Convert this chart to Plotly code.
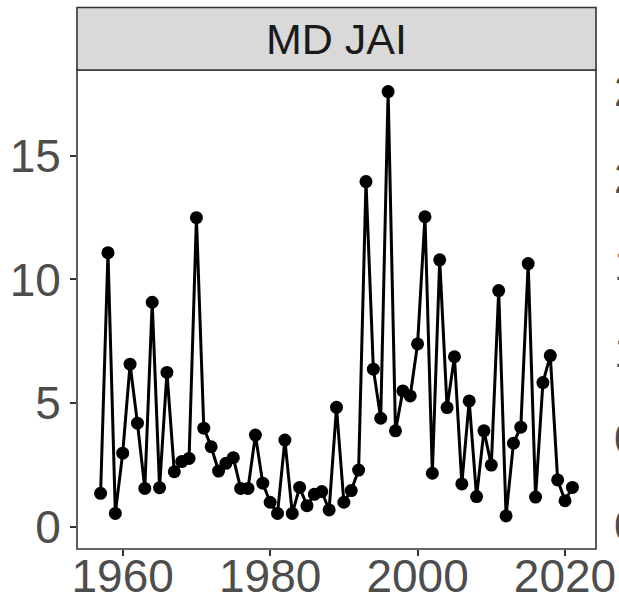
import plotly.graph_objects as go

# Annual index values, 1957-2021
years = list(range(1957, 2022))
jai = [
    1.37, 11.08, 0.56, 2.99, 6.58, 4.20, 1.57, 9.08, 1.60, 6.25,
    2.24, 2.65, 2.78, 12.49, 4.00, 3.25, 2.27, 2.58, 2.81, 1.57,
    1.57, 3.72, 1.78, 1.01, 0.56, 3.52, 0.56, 1.61, 0.87, 1.33,
    1.44, 0.70, 4.84, 1.01, 1.48, 2.31, 13.95, 6.38, 4.40, 17.58,
    3.89, 5.50, 5.30, 7.40, 12.53, 2.18, 10.79, 4.83, 6.88, 1.75,
    5.10, 1.24, 3.89, 2.51, 9.55, 0.46, 3.39, 4.04, 10.64, 1.22,
    5.84, 6.93, 1.91, 1.07, 1.61,
]

facet_label = "MD JAI"
x_ticks = [1960, 1980, 2000, 2020]
y_ticks = [0, 5, 10, 15]
# y-axis labels of the neighbouring panel (only their first glyphs fit on the page)
neighbour_ticks = ["2.5", "2.0", "1.5", "1.0", "0.5", "0.0"]

W, H = 619, 605
L, R, T, B = 77, 23, 70, 56
plot_h = H - T - B

FONT = "Liberation Sans, Arial, sans-serif"
DARK = "#333333"
TICK_TXT = "#4d4d4d"


def paper_y(px):
    """Convert a pixel row (from the top) into paper y."""
    return (H - B - px) / plot_h


fig = go.Figure()
fig.add_trace(go.Scatter(
    x=years, y=jai, mode="lines+markers",
    line=dict(color="black", width=3),
    marker=dict(color="black", size=13),
    showlegend=False, cliponaxis=False,
))

# panel border
fig.add_shape(type="rect", xref="paper", yref="paper", x0=0, x1=1, y0=0, y1=1,
              line=dict(color=DARK, width=1.6), layer="above")
# facet strip
strip_top = paper_y(7.5)
fig.add_shape(type="rect", xref="paper", yref="paper", x0=0, x1=1, y0=1, y1=strip_top,
              fillcolor="#d9d9d9", line=dict(color=DARK, width=1.6), layer="above")
fig.add_annotation(text=facet_label, xref="paper", yref="paper", x=0.5,
                   y=(1 + strip_top) / 2, showarrow=False, xanchor="center",
                   yanchor="middle", font=dict(family=FONT, size=43, color="#1a1a1a"))

# neighbouring panel's axis labels, clipped by the page edge
row0, row_step = 90, 87
for i, lab in enumerate(neighbour_ticks):
    fig.add_annotation(text=lab, xref="paper", yref="paper",
                       x=(612 - L) / (W - L - R), y=paper_y(row0 + i * row_step),
                       showarrow=False, xanchor="left", yanchor="middle",
                       font=dict(family=FONT, size=44, color=TICK_TXT))

fig.update_xaxes(
    range=[1953.8, 2024.2], tickvals=x_ticks, ticktext=[str(v) for v in x_ticks],
    showgrid=False, zeroline=False, showline=False,
    ticks="outside", ticklen=6, tickwidth=1.6, tickcolor=DARK,
    ticklabelstandoff=-19,
    tickfont=dict(family=FONT, size=46, color=TICK_TXT),
)
fig.update_yaxes(
    range=[-0.876, 18.45], tickvals=y_ticks, ticktext=[str(v) for v in y_ticks],
    showgrid=False, zeroline=False, showline=False,
    ticks="outside", ticklen=6, tickwidth=1.6, tickcolor=DARK,
    tickfont=dict(family=FONT, size=46, color=TICK_TXT),
)

fig.update_layout(
    width=W, height=H, margin=dict(l=L, r=R, t=T, b=B, autoexpand=False),
    paper_bgcolor="white", plot_bgcolor="white",
)

fig.write_html("out.html")
